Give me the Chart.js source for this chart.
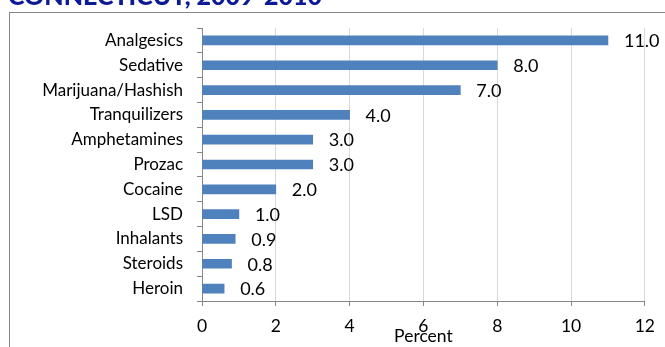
<!DOCTYPE html>
<html>
<head>
<meta charset="utf-8">
<script src="https://cdn.jsdelivr.net/npm/chart.js@4"></script>
<style>
html,body{margin:0;padding:0;background:#fff;overflow:hidden;}
#wrap{position:relative;width:665px;height:347px;}
</style>
</head>
<body>
<div id="wrap"><canvas id="c" width="665" height="347"></canvas></div>
<script>
const titleText = "CONNECTICUT, 2009-2010";
const categories = ["Analgesics","Sedative","Marijuana/Hashish","Tranquilizers","Amphetamines","Prozac","Cocaine","LSD","Inhalants","Steroids","Heroin"];
const percentValues = [11.0, 8.0, 7.0, 4.0, 3.0, 3.0, 2.0, 1.0, 0.9, 0.8, 0.6];
const xTicks = [0, 2, 4, 6, 8, 10, 12];
const xTitle = "Percent";

const FONT = "Lato, 'Open Sans', sans-serif";

const frame = {
  id: 'frame',
  beforeDraw(chart) {
    const ctx = chart.ctx;
    ctx.save();
    ctx.fillStyle = '#ffffff';
    ctx.fillRect(0, 0, chart.width, chart.height);
    ctx.strokeStyle = '#868686';
    ctx.lineWidth = 1;
    ctx.strokeRect(9.5, 12.5, 700, 400);
    ctx.fillStyle = '#0d1a96';
    ctx.font = "900 25px " + FONT;
    ctx.textBaseline = 'alphabetic';
    ctx.textAlign = 'left';
    ctx.fillText(titleText, 8, 5);
    ctx.restore();
  }
};

const valueLabels = {
  id: 'valueLabels',
  afterDatasetsDraw(chart) {
    const ctx = chart.ctx;
    const meta = chart.getDatasetMeta(0);
    ctx.save();
    ctx.fillStyle = '#000000';
    ctx.font = "18px " + FONT;
    ctx.textAlign = 'left';
    ctx.textBaseline = 'middle';
    meta.data.forEach((bar, i) => {
      ctx.fillText(percentValues[i].toFixed(1), bar.x + 16, bar.y + 1);
    });
    ctx.restore();
  }
};

new Chart(document.getElementById('c'), {
  type: 'bar',
  data: {
    labels: categories,
    datasets: [{
      data: percentValues,
      backgroundColor: '#4f81bd',
      borderWidth: 0,
      barThickness: 9
    }]
  },
  options: {
    indexAxis: 'y',
    responsive: false,
    animation: false,
    devicePixelRatio: 1,
    layout: { padding: { top: 28, right: 19, left: 0, bottom: 0 } },
    plugins: { legend: { display: false }, tooltip: { enabled: false }, title: { display: false } },
    scales: {
      x: {
        min: 0, max: 12,
        afterBuildTicks(scale) { scale.ticks = xTicks.map(v => ({ value: v })); },
        afterFit(scale) { scale.height = 46; },
        grid: { color: '#d9d9d9', tickColor: '#868686', tickLength: 5, drawOnChartArea: true },
        border: { color: '#868686' },
        ticks: { color: '#000', font: { family: FONT, size: 17.5 }, padding: 10, maxRotation: 0 },
        title: { display: true, text: xTitle, color: '#000', font: { family: FONT, size: 17.5 }, padding: { top: 0, bottom: 0 } }
      },
      y: {
        afterFit(scale) { scale.width = 202; },
        grid: { drawOnChartArea: false, drawTicks: true, tickLength: 5, tickColor: '#868686', offset: true },
        border: { color: '#868686' },
        ticks: { color: '#000', font: { family: FONT, size: 17 }, padding: 14, autoSkip: false }
      }
    }
  },
  plugins: [frame, valueLabels]
});
</script>
</body>
</html>
